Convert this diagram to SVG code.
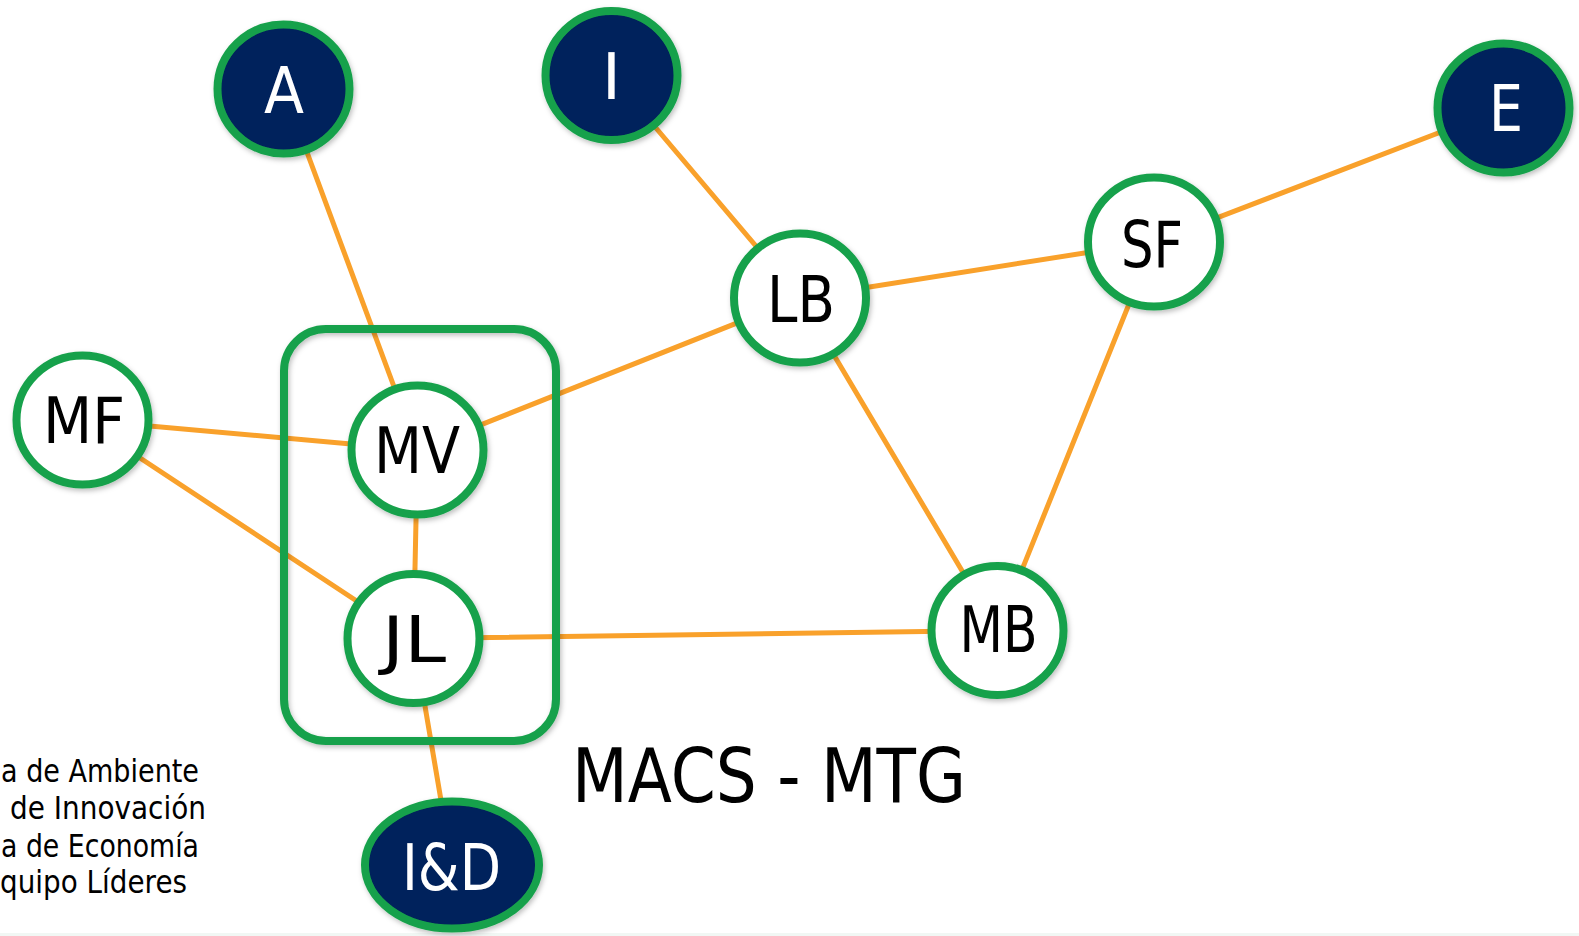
<svg xmlns="http://www.w3.org/2000/svg" width="1579" height="936" viewBox="0 0 1579 936">
<defs>
<filter id="sh" x="-20%" y="-20%" width="140%" height="140%">
<feDropShadow dx="1.5" dy="2.5" stdDeviation="2.5" flood-color="#000" flood-opacity="0.25"/>
</filter>
<style>
.edge{stroke:#F9A12B;stroke-width:5;fill:none;stroke-linecap:round}
.dark{fill:#00205B;stroke:#18A14B;stroke-width:8}
.light{fill:#FFFFFF;stroke:#18A14B;stroke-width:8}
.lbl{font-family:"DejaVu Sans","Liberation Sans",sans-serif;font-size:64px;text-anchor:middle}
.w{fill:#FFFFFF}
.k{fill:#000000}
.legend{font-family:"DejaVu Sans","Liberation Sans",sans-serif;font-size:32px;fill:#000}
</style>
</defs>
<rect x="0" y="0" width="1579" height="936" fill="#FFFFFF"/>
<rect x="0" y="933" width="1579" height="3" fill="#F1F7F4"/>
<g id="connectors">
<line class="edge" x1="283.5" y1="89" x2="417.5" y2="450"/>
<line class="edge" x1="611.5" y1="75.5" x2="800" y2="298"/>
<line class="edge" x1="1503.5" y1="108" x2="1154" y2="242"/>
<line class="edge" x1="1154" y1="242" x2="800" y2="298"/>
<line class="edge" x1="800" y1="298" x2="417.5" y2="450"/>
<line class="edge" x1="800" y1="298" x2="997.5" y2="630.5"/>
<line class="edge" x1="1154" y1="242" x2="997.5" y2="630.5"/>
<line class="edge" x1="82.5" y1="420" x2="417.5" y2="450"/>
<line class="edge" x1="82.5" y1="420" x2="413.5" y2="638.5"/>
<line class="edge" x1="417.5" y1="450" x2="413.5" y2="638.5"/>
<line class="edge" x1="413.5" y1="638.5" x2="997.5" y2="630.5"/>
<line class="edge" x1="413.5" y1="638.5" x2="452" y2="865"/>
</g>
<g id="group-box">
<rect x="284" y="329" width="272" height="412" rx="42" ry="42" fill="none" stroke="#18A14B" stroke-width="8" filter="url(#sh)"/>
</g>
<g id="node-A" filter="url(#sh)">
<ellipse class="dark" cx="283.5" cy="89" rx="66" ry="64.5"/>
<text class="lbl w" x="284" y="112.5" textLength="40" lengthAdjust="spacingAndGlyphs">A</text>
</g>
<g id="node-I" filter="url(#sh)">
<ellipse class="dark" cx="611.5" cy="75.5" rx="66" ry="64.5"/>
<text class="lbl w" x="611.5" y="99">I</text>
</g>
<g id="node-E" filter="url(#sh)">
<ellipse class="dark" cx="1503.5" cy="108" rx="66" ry="64.5"/>
<text class="lbl w" x="1506" y="131" textLength="34" lengthAdjust="spacingAndGlyphs">E</text>
</g>
<g id="node-LB" filter="url(#sh)">
<ellipse class="light" cx="800" cy="298" rx="66" ry="64.5"/>
<text class="lbl k" x="801" y="322" textLength="68" lengthAdjust="spacingAndGlyphs">LB</text>
</g>
<g id="node-SF" filter="url(#sh)">
<ellipse class="light" cx="1154" cy="242" rx="66" ry="64.5"/>
<text class="lbl k" x="1152" y="266.5" textLength="62" lengthAdjust="spacingAndGlyphs">SF</text>
</g>
<g id="node-MV" filter="url(#sh)">
<ellipse class="light" cx="417.5" cy="450" rx="66" ry="64.5"/>
<text class="lbl k" x="417" y="473" textLength="86" lengthAdjust="spacingAndGlyphs">MV</text>
</g>
<g id="node-JL" filter="url(#sh)">
<ellipse class="light" cx="413.5" cy="638.5" rx="66" ry="64.5"/>
<text class="lbl k" x="414" y="662" textLength="64" lengthAdjust="spacingAndGlyphs">JL</text>
</g>
<g id="node-MF" filter="url(#sh)">
<ellipse class="light" cx="82.5" cy="420" rx="66" ry="64.5"/>
<text class="lbl k" x="84" y="443" textLength="82" lengthAdjust="spacingAndGlyphs">MF</text>
</g>
<g id="node-MB" filter="url(#sh)">
<ellipse class="light" cx="997.5" cy="630.5" rx="66" ry="64.5"/>
<text class="lbl k" x="998.5" y="652" textLength="78" lengthAdjust="spacingAndGlyphs">MB</text>
</g>
<g id="node-ID" filter="url(#sh)">
<ellipse class="dark" cx="452" cy="865" rx="87" ry="63.5"/>
<text class="lbl w" x="451.5" y="890" textLength="99" lengthAdjust="spacingAndGlyphs">I&amp;D</text>
</g>
<g id="title">
<text x="572" y="802" font-family="DejaVu Sans, Liberation Sans, sans-serif" font-size="74" fill="#000" textLength="394" lengthAdjust="spacingAndGlyphs">MACS - MTG</text>
</g>
<g id="legend">
<text class="legend" x="1" y="782" textLength="198" lengthAdjust="spacingAndGlyphs">a de Ambiente</text>
<text class="legend" x="10" y="819" textLength="196" lengthAdjust="spacingAndGlyphs">de Innovación</text>
<text class="legend" x="1" y="857" textLength="198" lengthAdjust="spacingAndGlyphs">a de Economía</text>
<text class="legend" x="0" y="893" textLength="187" lengthAdjust="spacingAndGlyphs">quipo Líderes</text>
</g>
</svg>
